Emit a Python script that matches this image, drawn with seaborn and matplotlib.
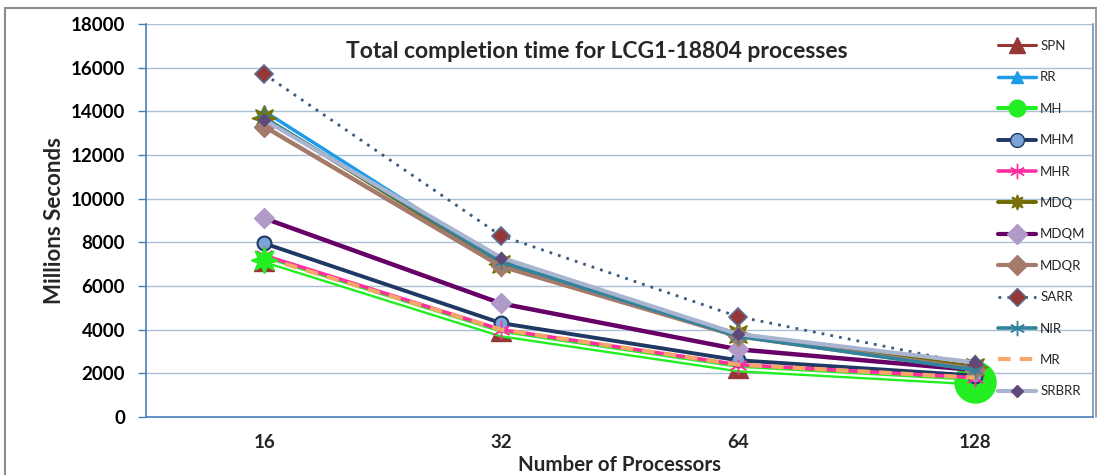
import numpy as np
import pandas as pd
import seaborn as sns
import matplotlib
matplotlib.use("Agg")
import matplotlib.pyplot as plt
from matplotlib.lines import Line2D

# Processor counts on the x axis
processors = ["16", "32", "64", "128"]

# Total completion time (millions of seconds) per scheduling policy
SPN   = [7150, 3950, 2250, 1800]
RR    = [14000, 7100, 3700, 2200]
MH    = [7200, 3800, 2200, 1600]
MHM   = [7950, 4300, 2600, 1900]
MHR   = [7400, 4000, 2400, 1800]
MDQ   = [13700, 7000, 3800, 2300]
MDQM  = [9100, 5200, 3100, 2150]
MDQR  = [13300, 6900, 3700, 2200]
SARR  = [15700, 8300, 4600, 2400]
NIR   = [13700, 7100, 3700, 2150]
MR    = [7300, 4000, 2400, 1800]
SRBRR = [13600, 7300, 3800, 2500]

series_names = ["SPN", "RR", "MH", "MHM", "MHR", "MDQ", "MDQM", "MDQR",
                "SARR", "NIR", "MR", "SRBRR"]
series_values = [SPN, RR, MH, MHM, MHR, MDQ, MDQM, MDQR, SARR, NIR, MR, SRBRR]

y_ticks = list(range(0, 18001, 2000))

rows = []
for name, vals in zip(series_names, series_values):
    for i, (p, v) in enumerate(zip(processors, vals)):
        rows.append({"series": name, "pos": i, "processors": p, "value": v})
df = pd.DataFrame(rows)

sns.set_theme(style="white")
plt.rcParams["font.family"] = ["Lato", "DejaVu Sans"]

asterisk = (6, 2, 0)
star8 = (8, 1, 0)

styles = {
    "SPN":   dict(color="#953735", lw=2.2, marker="^", ms=15, mfc="#953735", mec="#953735"),
    "RR":    dict(color="#1E9BE9", lw=2.5, marker="^", ms=9, mfc="#1E9BE9", mec="#1E9BE9"),
    "MH":    dict(color="#22EE22", lw=5.0, marker=None),
    "MHM":   dict(color="#1F3864", lw=2.8, marker="o", ms=10, mfc="#7BA3D6", mec="#1F3864", mew=1.5),
    "MHR":   dict(color="#FF2FA0", lw=2.6, marker=asterisk, ms=13, mfc="#FF2FA0", mec="#FF2FA0", mew=1.0),
    "MDQ":   dict(color="#6E6A00", lw=2.8, marker=star8, ms=18, mfc="#77720A", mec="#77720A"),
    "MDQM":  dict(color="#660066", lw=3.2, marker="D", ms=10, mfc="#B09AC8", mec="#B09AC8"),
    "MDQR":  dict(color="#A47B6B", lw=3.2, marker="D", ms=10, mfc="#A47B6B", mec="#A47B6B"),
    "SARR":  dict(color="#3B5A7E", lw=2.0, ls=(0, (1, 2.2)), marker="D", ms=9, mfc="#953735", mec="#5A6E94", mew=1.2),
    "NIR":   dict(color="#31849B", lw=2.6, marker=asterisk, ms=11, mfc="#31849B", mec="#31849B", mew=1.0),
    "MR":    dict(color="#F9A66B", lw=3.0, ls=(0, (3, 2.2)), marker=None),
    "SRBRR": dict(color="#A9B4D0", lw=3.0, marker="D", ms=6, mfc="#5F497A", mec="#5F497A"),
}

fig = plt.figure(figsize=(11.02, 4.75), dpi=100)
fig.patch.set_facecolor("white")
ax = fig.add_axes([146 / 1102, 1 - 417 / 475, (1093 - 146) / 1102, (417 - 24) / 475])

for name in series_names:
    st = styles[name]
    sub = df[df["series"] == name]
    kw = dict(color=st["color"], linewidth=st["lw"], linestyle=st.get("ls", "-"))
    if st["marker"] is not None:
        kw.update(marker=st["marker"], markersize=st["ms"],
                  markerfacecolor=st["mfc"], markeredgecolor=st["mec"],
                  markeredgewidth=st.get("mew", 1.0))
    sns.lineplot(data=sub, x="pos", y="value", ax=ax, legend=False, **kw)
    if name == "MH":
        # double-line look: white core inside the green band
        sns.lineplot(data=sub, x="pos", y="value", ax=ax, legend=False,
                     color="white", linewidth=1.6)
        # first and last points carry the MH markers
        first = sub.iloc[[0]]
        last = sub.iloc[[-1]]
        sns.scatterplot(data=first, x="pos", y="value", ax=ax, legend=False,
                        marker=star8, s=330, color="#22EE22", edgecolor="#22EE22", zorder=3)
        sns.scatterplot(data=last, x="pos", y="value", ax=ax, legend=False,
                        marker="o", s=800, color="#22EE22", edgecolor="#22EE22", zorder=2)

# Axes, grid, ticks
axis_col = "#4A7EBB"
grid_col = "#A9BFD6"
ax.set_xlim(-0.5, 3.5)
ax.set_ylim(0, 18000)
ax.set_yticks(y_ticks)
ax.set_yticklabels([str(t) for t in y_ticks], fontsize=13.5, fontweight="bold", color="black")
ax.yaxis.grid(True, color=grid_col, linewidth=1.0)
ax.set_axisbelow(True)
ax.set_xticks([-0.5, 0.5, 1.5, 2.5, 3.5])
ax.set_xticklabels([])
ax.set_xticks(range(len(processors)), minor=True)
ax.set_xticklabels(processors, minor=True, fontsize=13.5, fontweight="bold")
ax.tick_params(axis="x", which="major", direction="out", length=6, width=1, color=axis_col)
ax.tick_params(axis="x", which="minor", length=0, pad=12)
ax.tick_params(axis="y", direction="out", length=6, width=1, color=axis_col, pad=9, left=True)
for side in ["left", "bottom"]:
    ax.spines[side].set_color(axis_col)
    ax.spines[side].set_linewidth(1.2)
ax.spines["right"].set_color("#6C95C3")
ax.spines["right"].set_linewidth(1.2)
ax.spines["top"].set_visible(False)

ax.set_xlabel("")
ax.set_ylabel("")
fig.text(55 / 1102, 1 - 220 / 475, "Millions Seconds", rotation=90, ha="center", va="center",
         fontsize=16, fontweight="bold")
fig.text(620 / 1102, 1 - 465 / 475, "Number of Processors", ha="center", va="center",
         fontsize=14.8, fontweight="bold")
fig.text(597 / 1102, 1 - 52 / 475, "Total completion time for LCG1-18804 processes",
         ha="center", va="center", fontsize=16.5, fontweight="bold")

# Legend
handles = []
for name in series_names:
    st = styles[name]
    h = Line2D([], [], color=st["color"], linewidth=min(st["lw"], 3.0),
               linestyle=st.get("ls", "-"))
    if st["marker"] is not None:
        h.set_marker(st["marker"])
        h.set_markersize(min(st["ms"], 11))
        h.set_markerfacecolor(st["mfc"])
        h.set_markeredgecolor(st["mec"])
    if name == "MH":
        h.set_marker("o")
        h.set_markersize(12)
        h.set_markerfacecolor(st["color"])
        h.set_markeredgecolor(st["color"])
    handles.append(h)
leg = ax.legend(handles, series_names, loc="upper left",
                bbox_to_anchor=(998 / 1102, 1 - 40 / 475), bbox_transform=fig.transFigure,
                frameon=False, fontsize=9.5, handlelength=2.9, handletextpad=0.3,
                labelspacing=1.47, borderpad=0, borderaxespad=0, numpoints=1)

# Chart border
fig.add_artist(Line2D([5 / 1102, 5 / 1102], [0, 1 - 8 / 475], transform=fig.transFigure,
                      color="#8C8C8C", linewidth=1.5))
fig.add_artist(Line2D([5 / 1102, 1096 / 1102], [1 - 8 / 475, 1 - 8 / 475], transform=fig.transFigure,
                      color="#8C8C8C", linewidth=1.5))
fig.add_artist(Line2D([1096 / 1102, 1096 / 1102], [1 - 417 / 475, 1 - 8 / 475], transform=fig.transFigure,
                      color="#8C8C8C", linewidth=1.2))

fig.savefig("out.png", dpi=100)
